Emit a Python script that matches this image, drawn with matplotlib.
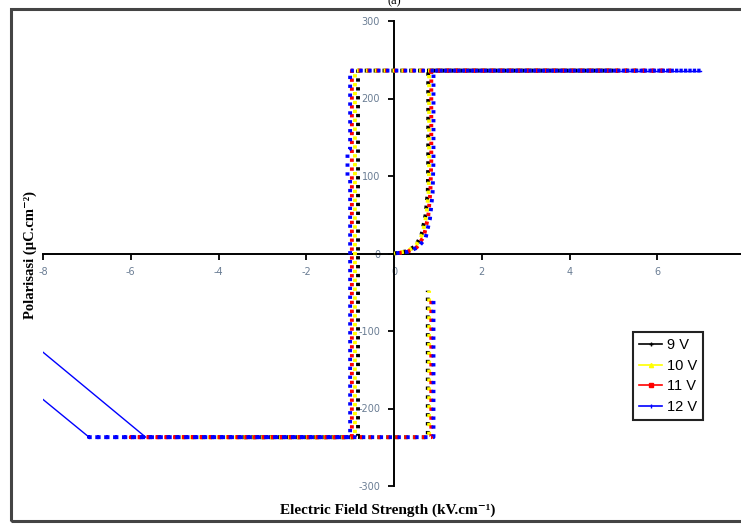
import matplotlib.pyplot as plt
from matplotlib.lines import Line2D
from matplotlib.patches import Rectangle

W, H = 741, 524

plt.rcParams['lines.scale_dashes'] = False
plt.rcParams['axes.unicode_minus'] = False

# hysteresis loops (E in kV/cm, P in uC/cm^2)
labels = ['9 V', '10 V', '11 V', '12 V']
colors = ['#000000', '#ffff00', '#ff0000', '#0000ff']
markers = ['+', '^', 's', '|']

e_9v = [0, 0.3, 0.5, 0.63, 0.72, 0.77, 0.78, 0.78, 5.0, -0.82, -0.82, -3.5, 0.77, 0.77]
p_9v = [0, 3, 10, 25, 50, 80, 120, 236, 236, 236, -237, -237, -237, -48]

e_10v = [0, 0.3, 0.5, 0.65, 0.74, 0.79, 0.8, 0.8, 5.6, -0.89, -0.89, -4.9, 0.8, 0.8]
p_10v = [0, 3, 10, 25, 50, 80, 120, 236, 236, 236, -237, -237, -237, -48]

e_11v = [0, 0.3, 0.52, 0.68, 0.78, 0.83, 0.85, 0.85, 6.3, -0.96, -0.96, -6.0, 0.85, 0.85]
p_11v = [0, 2, 8, 22, 48, 80, 120, 236, 236, 236, -237, -237, -237, -55]

e_12v = [0, 0.3, 0.55, 0.72, 0.82, 0.88, 0.9, 0.9, 7.0, -1.0, -1.0, -1.06, -1.06, -1.0,
         -1.0, -6.95, 0.9, 0.9]
p_12v = [0, 2, 8, 20, 45, 78, 120, 236, 236, 236, 135, 132, 100, 97,
         -237, -237, -237, -57]

# off-scale part of the 12 V loop (two thin diagonal traces at the left)
e_12v_tail_a = [-6.95, -8.05]
p_12v_tail_a = [-237, -186]
e_12v_tail_b = [-5.66, -8.05]
p_12v_tail_b = [-237, -125]

series_e = [e_9v, e_10v, e_11v, e_12v]
series_p = [p_9v, p_10v, p_11v, p_12v]

x_ticks = [-8, -6, -4, -2, 0, 2, 4, 6, 8]
y_ticks = [-300, -200, -100, 0, 100, 200, 300]


def main():
    fig = plt.figure(figsize=(W / 100, H / 100), dpi=100)
    ax = fig.add_axes([43 / W, 1 - 486 / H, 702 / W, 465 / H])

    for i, (e, p) in enumerate(zip(series_e, series_p)):
        ax.plot(e, p, color=colors[i], lw=2.8,
                linestyle=(i * 1.6, (2.4, 4.0)), dash_capstyle='butt',
                zorder=3 + i)
    for e, p in ((e_12v_tail_a, p_12v_tail_a), (e_12v_tail_b, p_12v_tail_b)):
        ax.plot(e, p, color=colors[3], lw=1, zorder=2)
    ax.plot(e_12v[7:9], p_12v[7:9], color=colors[3], lw=1, zorder=2)

    ax.set_xlim(-8, 8)
    ax.set_ylim(-300, 300)
    ax.spines['left'].set_position(('data', 0))
    ax.spines['bottom'].set_position(('data', 0))
    ax.spines['top'].set_visible(False)
    ax.spines['right'].set_visible(False)
    for s in ('left', 'bottom'):
        ax.spines[s].set_linewidth(1.4)
    ax.set_xticks(x_ticks)
    ax.set_yticks(y_ticks)
    ax.tick_params(direction='out', length=4, width=1.3, labelsize=7,
                   labelcolor='#6a7d94', pad=6)
    ax.patch.set_alpha(0)

    handles = [Line2D([], [], color=c, marker=m, ms=3, lw=1.2) for c, m in zip(colors, markers)]
    leg = fig.legend(handles, labels, loc='upper left',
                     bbox_to_anchor=(626 / W, 1 - 325 / H), fancybox=False,
                     framealpha=1, edgecolor='#222222', handlelength=1.6,
                     handletextpad=0.3, labelspacing=0.45, borderpad=0.4,
                     prop={'family': 'Liberation Sans', 'size': 10.5})
    leg.get_frame().set_linewidth(1.5)

    fig.text(388 / W, 1 - 510 / H, 'Electric Field Strength (kV.cm\u207b\u00b9)',
             ha='center', va='center', fontsize=11, fontweight='bold',
             family=['Liberation Serif', 'DejaVu Serif'])
    fig.text(30 / W, 1 - 255 / H, 'Polarisasi (\u00b5C.cm\u207b\u00b2)',
             ha='center', va='center', rotation=90, fontsize=10.5, fontweight='bold',
             family=['Liberation Serif', 'DejaVu Serif'])
    fig.text(394 / W, 1 - 1 / H, '(a)', ha='center', va='center', fontsize=9,
             family=['Liberation Serif', 'DejaVu Serif'])

    fig.patches.append(Rectangle((11 / W, 1 - 521 / H), 740 / W, 512 / H,
                                 transform=fig.transFigure, fill=False,
                                 edgecolor='#444444', lw=2.2))
    fig.savefig('out.png', dpi=100)


if __name__ == '__main__':
    main()
